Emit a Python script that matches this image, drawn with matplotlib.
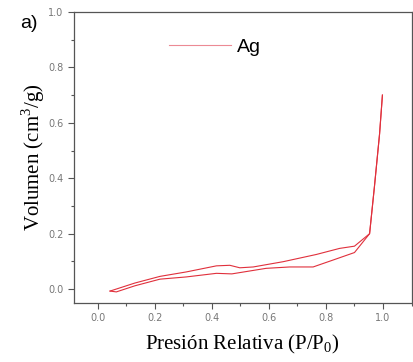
import numpy as np
import matplotlib.pyplot as plt
from matplotlib.ticker import MultipleLocator

# adsorption branch (lower)
p_ads = [0.043, 0.065, 0.13, 0.218, 0.31, 0.416, 0.47, 0.59, 0.673, 0.755, 0.825, 0.90, 0.953, 0.97, 0.988, 0.998]
v_ads = [-0.007, -0.01, 0.012, 0.036, 0.044, 0.057, 0.055, 0.075, 0.080, 0.080, 0.105, 0.132, 0.20, 0.37, 0.56, 0.70]
# desorption branch (upper)
p_des = [0.998, 0.988, 0.97, 0.953, 0.90, 0.848, 0.766, 0.65, 0.545, 0.498, 0.463, 0.416, 0.31, 0.218, 0.13, 0.043]
v_des = [0.70, 0.56, 0.37, 0.20, 0.155, 0.147, 0.125, 0.099, 0.080, 0.077, 0.086, 0.084, 0.062, 0.046, 0.022, -0.007]

plt.rcParams['mathtext.fontset'] = 'custom'
plt.rcParams['mathtext.rm'] = 'Liberation Serif'

fig = plt.figure(figsize=(4.14, 3.62), dpi=100)
ax = fig.add_axes([0.179, 0.163, 0.815, 0.804])

red = '#e0303c'
ax.plot(p_ads, v_ads, color=red, lw=0.8)
ax.plot(p_des, v_des, color=red, lw=0.8)
ax.plot([], [], color='#ec8a94', lw=0.8, label='Ag')

ax.set_xlim(-0.083, 1.1)
ax.set_ylim(-0.05, 1.0)
ax.xaxis.set_major_locator(MultipleLocator(0.2))
ax.xaxis.set_minor_locator(MultipleLocator(0.1))
ax.yaxis.set_major_locator(MultipleLocator(0.2))
ax.yaxis.set_minor_locator(MultipleLocator(0.1))
ax.tick_params(which='both', direction='out', colors='#555555', labelsize=7, labelcolor='#777777')
ax.tick_params(which='major', length=4, width=0.8)
ax.tick_params(which='minor', length=2.5, width=0.8)
for s in ax.spines.values():
    s.set_color('#555555')
    s.set_linewidth(0.9)

ax.set_xlabel('Presión Relativa (P/P$_0$)', family='Liberation Serif', fontsize=15, labelpad=7)
ax.set_ylabel('Volumen (cm$^3$/g)', family='Liberation Serif', fontsize=15, labelpad=1)

fig.text(0.048, 0.935, 'a)', fontsize=14, family='Liberation Sans', va='center')
ax.legend(loc='upper left', bbox_to_anchor=(0.23, 0.97), frameon=False,
          handlelength=3.2, handletextpad=0.3, prop={'family': 'Liberation Sans', 'size': 14})

plt.savefig('out.png')
